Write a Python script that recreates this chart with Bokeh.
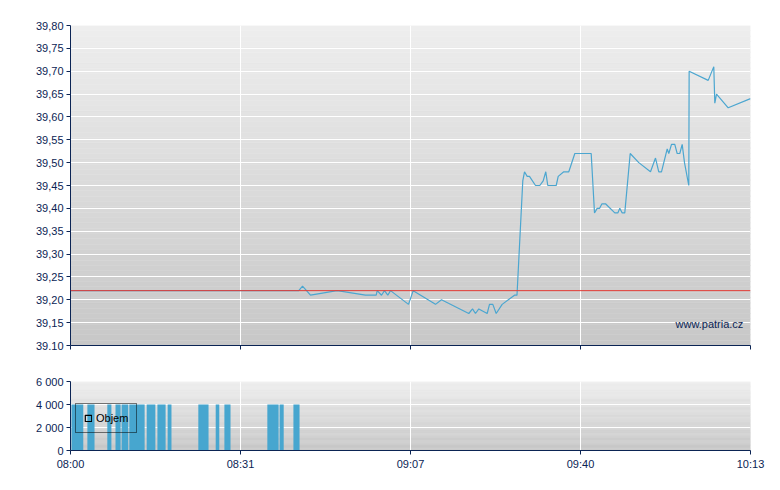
import numpy as np
from bokeh.plotting import figure
from bokeh.layouts import column
from bokeh.models import (Range1d, FixedTicker, CustomJSTickFormatter, Span, Label,
                          Legend, LegendItem)
from bokeh.embed import file_html
from bokeh.resources import INLINE

# ---------------- data ----------------
# x = minutes after 08:00 (axis 08:00 .. 10:13)
price_x = [0, 44.65, 45.38, 46.94, 52.16, 57.70, 59.79, 59.99, 60.83, 61.41, 62.06, 62.59,
           66.11, 67.03, 71.39, 72.56, 77.90, 78.63, 79.21, 79.86, 81.50, 81.95, 82.60,
           83.26, 84.43, 86.84, 87.33, 88.46, 88.80, 89.32, 89.77, 90.95, 91.79, 92.45,
           92.96, 93.35, 95.00, 95.39, 96.48, 97.46, 98.64, 101.84, 102.49, 103.01, 103.47,
           103.95, 104.64, 106.46, 107.05, 107.44, 107.91, 108.41, 109.47, 111.15, 113.44,
           114.42, 115.06, 115.59, 116.71, 117.02, 117.55, 118.19, 118.66, 119.17, 119.64,
           120.09, 120.93, 121.0, 124.73, 125.82, 126.02, 126.35, 128.64, 133.0]
price_y = [39.22, 39.22, 39.23, 39.21, 39.22, 39.21, 39.21, 39.22, 39.21, 39.22, 39.21, 39.22,
           39.19, 39.22, 39.19, 39.20, 39.17, 39.18, 39.17, 39.18, 39.17, 39.19, 39.19,
           39.17, 39.19, 39.21, 39.21, 39.46, 39.48, 39.47, 39.47, 39.45, 39.45, 39.46,
           39.48, 39.45, 39.45, 39.47, 39.48, 39.48, 39.52, 39.52, 39.39, 39.40, 39.40,
           39.41, 39.41, 39.39, 39.39, 39.40, 39.39, 39.39, 39.52, 39.50, 39.48,
           39.51, 39.48, 39.48, 39.53, 39.52, 39.54, 39.54, 39.52, 39.52, 39.54,
           39.50, 39.45, 39.70, 39.68, 39.71, 39.63, 39.65, 39.62, 39.64]
prev_close = 39.22

vol_left = [0.2, 3.3, 7.2, 8.8, 10.0, 11.5, 14.9, 17.0, 19.0, 25.0, 28.4, 30.1, 38.5, 40.9, 43.6]
vol_right = [2.5, 4.7, 8.0, 9.8, 11.3, 14.5, 16.6, 18.6, 19.75, 27.0, 29.1, 31.3, 40.7, 41.7, 44.8]
vol_value = [4000] * 15

x_ticks = [0, 33.25, 66.5, 99.75, 133]
x_labels = ["08:00", "08:31", "09:07", "09:40", "10:13"]
price_ticks = [39.10, 39.15, 39.20, 39.25, 39.30, 39.35, 39.40, 39.45, 39.50, 39.55,
               39.60, 39.65, 39.70, 39.75, 39.80]
price_labels = ["39.10", "39,15", "39,20", "39,25", "39,30", "39,35", "39,40", "39,45",
                "39,50", "39,55", "39,60", "39,65", "39,70", "39,75", "39,80"]
vol_ticks = [0, 2000, 4000, 6000]
vol_labels = ["0", "2 000", "4 000", "6 000"]

NAVY = "#0b2454"
LINE = "#4ba6d0"
BAR = "#47a6cf"
FONT = "Liberation Sans"

FMT_CODE = """
let b = 0;
for (let i = 0; i < tk.length; i++) {
  if (Math.abs(tk[i] - tick) < Math.abs(tk[b] - tick)) b = i;
}
return lb[b];
"""


def fmt(tks, labels):
    return CustomJSTickFormatter(args=dict(tk=tks, lb=labels), code=FMT_CODE)


def gradient(p, y0, y1, top_col=(238, 238, 238), bot_col=(199, 199, 199), n=60):
    edges = np.linspace(y0, y1, n + 1)
    cols = []
    for i in range(n):
        t = (i + 0.5) / n
        c = [int(round(bot_col[k] + (top_col[k] - bot_col[k]) * t)) for k in range(3)]
        cols.append("#%02x%02x%02x" % tuple(c))
    r = p.quad(left=x_ticks[0], right=x_ticks[-1], bottom=edges[:-1], top=edges[1:],
               fill_color=cols, line_color=cols, line_width=0.5)
    r.level = "image"


def style(p, yticks, ylabels, show_xlabels):
    p.outline_line_color = None
    p.background_fill_color = None
    for ax in (p.xaxis[0], p.yaxis[0]):
        ax.axis_line_color = NAVY
        ax.axis_line_width = 1
        ax.major_tick_line_color = NAVY
        ax.major_tick_out = 4
        ax.major_tick_in = 0
        ax.minor_tick_line_color = None
        ax.major_label_text_color = NAVY
        ax.major_label_text_font = FONT
        ax.major_label_text_font_size = "11px"
        ax.major_label_standoff = 3
    p.yaxis[0].ticker = FixedTicker(ticks=yticks)
    p.yaxis[0].formatter = fmt(yticks, ylabels)
    p.xaxis[0].ticker = FixedTicker(ticks=x_ticks)
    if show_xlabels:
        p.xaxis[0].formatter = fmt(x_ticks, x_labels)
    else:
        p.xaxis[0].formatter = fmt(x_ticks, [""] * len(x_ticks))
        p.xaxis[0].major_label_standoff = 0
    p.xgrid[0].ticker = FixedTicker(ticks=x_ticks)
    p.ygrid[0].ticker = FixedTicker(ticks=yticks)
    for g in (p.xgrid[0], p.ygrid[0]):
        g.grid_line_color = "white"
        g.grid_line_width = 1


xr = Range1d(x_ticks[0], x_ticks[-1])

# ---------------- price chart ----------------
p = figure(width=772, height=363, x_range=xr,
           y_range=Range1d(price_ticks[0], price_ticks[-1]),
           output_backend="svg", toolbar_location=None,
           min_border_left=70, min_border_right=22, min_border_top=25, min_border_bottom=18)
gradient(p, price_ticks[0], price_ticks[-1])
style(p, price_ticks, price_labels, False)
p.add_layout(Span(location=prev_close, dimension="width", line_color="#e23b35", line_width=1))
p.line(price_x, price_y, line_color=LINE, line_width=1.2)
p.add_layout(Label(x=x_ticks[-1] - 1.4, y=price_ticks[0] + 0.047, text="www.patria.cz",
                   text_align="right", text_baseline="middle", text_color=NAVY,
                   text_font=FONT, text_font_size="11px"))

# ---------------- volume chart ----------------
v = figure(width=772, height=117, x_range=xr,
           y_range=Range1d(vol_ticks[0], vol_ticks[-1]),
           output_backend="svg", toolbar_location=None,
           min_border_left=70, min_border_right=22, min_border_top=18, min_border_bottom=30)
gradient(v, vol_ticks[0], vol_ticks[-1])
style(v, vol_ticks, vol_labels, True)
v.quad(left=vol_left, right=vol_right, bottom=0, top=vol_value,
       fill_color=BAR, line_color=None)
# legend swatch only (placed outside the visible range)
dummy = v.quad(left=[-1000], right=[-999], bottom=[-1000], top=[-999],
               fill_color=None, line_color="black", line_width=1.2)
leg = Legend(items=[LegendItem(label="Objem", renderers=[dummy])],
             location=(5, 17), border_line_color="black", border_line_width=1,
             background_fill_alpha=0, padding=8, margin=0, glyph_width=8,
             glyph_height=8, label_standoff=4, label_text_font=FONT,
             label_text_font_size="11px", label_text_color="black",
             label_height=12)
v.add_layout(leg, "center")

layout = column(p, v, spacing=0)
open("out.html", "w").write(file_html(layout, INLINE))
